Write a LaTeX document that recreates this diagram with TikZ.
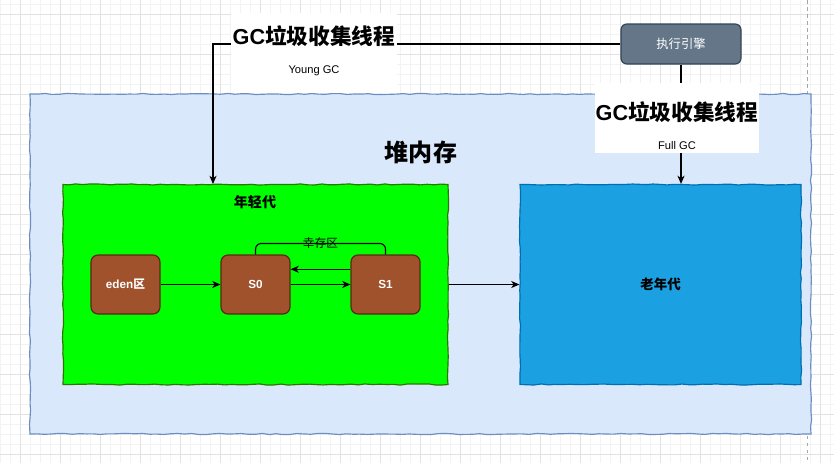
\documentclass[tikz,border=0pt]{standalone}
\usepackage{fontspec}
\setmainfont{Liberation Sans}
\newfontfamily\cjk{Noto Sans CJK SC}
\usetikzlibrary{arrows.meta,decorations.pathmorphing}

\definecolor{heapfill}{HTML}{DAE8FC}
\definecolor{heapline}{HTML}{6C8EBF}
\definecolor{youngfill}{HTML}{00FF00}
\definecolor{youngline}{HTML}{2D7600}
\definecolor{oldfill}{HTML}{1BA1E2}
\definecolor{oldline}{HTML}{006EAF}
\definecolor{brownfill}{HTML}{A0522D}
\definecolor{brownline}{HTML}{5A2A10}
\definecolor{enginefill}{HTML}{647687}
\definecolor{engineline}{HTML}{314354}
\definecolor{gridminor}{HTML}{F3F3F3}
\definecolor{gridmajor}{HTML}{E2E2E2}

\tikzset{
  sketch/.style={decorate, decoration={random steps, segment length=6pt, amplitude=0.5pt}},
  area/.style={draw, sketch, inner sep=0pt},
  region/.style={draw=brownline, rounded corners=6pt, fill=brownfill, text=white,
    font=\bfseries\fontsize{10}{12}\selectfont, minimum width=2.07cm, minimum height=1.77cm},
  gclabel/.style={font=\bfseries\fontsize{18.5}{22}\selectfont},
  gcname/.style={font=\fontsize{9.5}{11}\selectfont},
}
\pgfmathsetseed{7}

\begin{document}
\begin{tikzpicture}[x=0.03cm,y=-0.03cm,>={Stealth[length=7pt,width=6pt,inset=2pt]},line width=1pt,node distance=3.9cm]
  \useasboundingbox (0,0) rectangle (834,463);
  % grid
  \foreach \x in {0,10,...,830} \draw[gridminor,line width=0.5pt] (\x,0) -- (\x,463);
  \foreach \y in {4,14,...,454} \draw[gridminor,line width=0.5pt] (0,\y) -- (834,\y);
  \foreach \x in {20,60,...,820} \draw[gridmajor,line width=0.5pt] (\x,0) -- (\x,463);
  \foreach \y in {14,54,...,454} \draw[gridmajor,line width=0.5pt] (0,\y) -- (834,\y);
  \draw[gray!70,dashed,line width=0.5pt] (807,0) -- (807,463);

  \node[area, fill=heapfill, draw=heapline, minimum width=23.43cm, minimum height=10.2cm] (heap) at (420.5,264) {};
  \node[font=\bfseries\cjk\fontsize{20.5}{24}\selectfont] (heaplbl) at (421,152) {堆内存};
  \node[area, fill=youngfill, draw=youngline, minimum width=11.55cm, minimum height=6cm] (young) at (255.5,284.5) {};
  \node[area, fill=oldfill, draw=oldline, minimum width=8.43cm, minimum height=6cm, right of=young,
    node distance=12.15cm, font=\bfseries\cjk\fontsize{11.5}{14}\selectfont] (old) {老年代};
  \node[font=\bfseries\cjk\fontsize{12}{14}\selectfont] (younglbl) at (255,202) {年轻代};

  \node[region] (eden) at (125.5,284.5) {eden{\cjk 区}};
  \node[region, right of=eden] (s0) {S0};
  \node[region, right of=s0]   (s1) {S1};
  \draw[->] (eden) -- (s0);
  \draw[->] (s0) -- (s1);
  \draw[->] ([yshift=13pt]s1.west) -- ([yshift=13pt]s0.east);
  \draw[rounded corners=5pt] (s0.north) -- ++(0,-11) -| node[pos=0.25, font=\cjk\fontsize{10}{12}\selectfont] (survlbl) {幸存区} (s1.north);
  \draw[->] (young) -- (old);

  \node[rounded corners=5pt, fill=enginefill, draw=engineline, text=white, minimum width=3.6cm,
    minimum height=1.2cm, font=\cjk\fontsize{10.5}{12}\selectfont] (engine) at (681,44) {执行引擎};
  \coordinate (younghit) at (213,184);
  \draw[->] (engine) -| (younghit);
  \draw[->] (engine) -- (engine |- old.north);

  \node[fill=white, minimum width=4.98cm, minimum height=2.4cm] (ygbox) at (314,53) {};
  \node[gclabel] (ygtitle) at (314,36) {GC{\cjk 垃圾收集线程}};
  \node[gcname]  (ygname)  at (314,71) {Young GC};
  \node[fill=white, minimum width=4.92cm, minimum height=2.1cm] (fgbox) at (677,118) {};
  \node[gclabel] (fgtitle) at (677,112) {GC{\cjk 垃圾收集线程}};
  \node[gcname]  (fgname)  at (677,146) {Full GC};
\end{tikzpicture}
\end{document}
